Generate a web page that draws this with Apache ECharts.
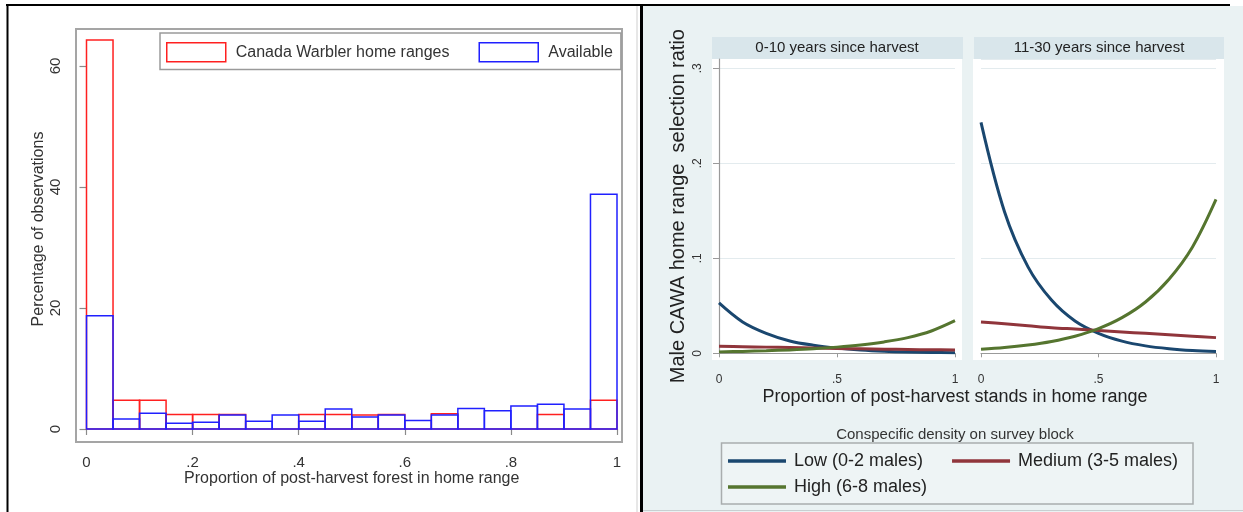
<!DOCTYPE html>
<html>
<head>
<meta charset="utf-8">
<script src="https://cdn.jsdelivr.net/npm/echarts@6/dist/echarts.min.js"></script>
<style>
html,body{margin:0;padding:0;background:#fff;}
#c{width:1243px;height:512px;}
</style>
</head>
<body>
<div id="c"></div>
<script>
// ---------- Left panel: histogram ----------
const binEdges = [0, 0.05, 0.1, 0.15, 0.2, 0.25, 0.3, 0.35, 0.4, 0.45, 0.5,
                  0.55, 0.6, 0.65, 0.7, 0.75, 0.8, 0.85, 0.9, 0.95, 1];
const warblerPct = [64.3, 4.76, 4.76, 2.38, 2.38, 2.38, 0, 0, 2.38, 2.38,
                    2.3, 2.38, 0, 2.5, 0, 0, 0, 2.38, 0, 4.76];
const availablePct = [18.7, 1.65, 2.6, 0.93, 1.1, 2.3, 1.27, 2.3, 1.27, 3.3,
                      2.0, 2.3, 1.4, 2.3, 3.4, 3.0, 3.8, 4.1, 3.3, 38.8];
const histNames = ['Canada Warbler home ranges', 'Available'];
const leftXTicks = [0, 0.2, 0.4, 0.6, 0.8, 1];
const leftYTicks = [0, 20, 40, 60];

// ---------- Right panel: fitted curves ----------
const facetTitles = ['0-10 years since harvest', '11-30 years since harvest'];
const propX = [0, 0.1, 0.2, 0.3, 0.4, 0.5, 0.6, 0.7, 0.8, 0.9, 1];
const low010  = [0.053, 0.033, 0.021, 0.013, 0.0085, 0.0055, 0.0035, 0.0022, 0.0014, 0.0009, 0.0006];
const med010  = [0.0075, 0.007, 0.0065, 0.006, 0.0055, 0.005, 0.0047, 0.0043, 0.004, 0.0037, 0.0035];
const high010 = [0.0015, 0.002, 0.0027, 0.0036, 0.0048, 0.0065, 0.0088, 0.012, 0.0165, 0.0235, 0.0343];
const low1130  = [0.243, 0.149, 0.091, 0.056, 0.034, 0.021, 0.0128, 0.0078, 0.0048, 0.0029, 0.0018];
const med1130  = [0.033, 0.031, 0.029, 0.027, 0.0255, 0.024, 0.0225, 0.021, 0.0195, 0.018, 0.0165];
const high1130 = [0.0042, 0.006, 0.0087, 0.0125, 0.018, 0.026, 0.0375, 0.054, 0.078, 0.112, 0.162];
const densityNames = ['Low (0-2 males)', 'Medium (3-5 males)', 'High (6-8 males)'];
const densityColors = ['#1a476f', '#90353b', '#55752f'];
const rightXTicks = [0, 0.5, 1];
const rightYTicks = [0, 0.1, 0.2, 0.3];

const FONT = '"Liberation Sans", Arial, sans-serif';
const fmt = v => {
  const s = String(+(+v).toFixed(3));
  return s.replace(/^0\./, '.');
};

function histData(vals) {
  return vals.map((h, i) => [binEdges[i], binEdges[i + 1], h]);
}
function histSeries(name, vals, color, z) {
  return {
    type: 'custom', name: name, xAxisIndex: 0, yAxisIndex: 0, z: z,
    itemStyle: { color: color },
    encode: { x: [0, 1], y: 2 },
    data: histData(vals),
    renderItem: function (params, api) {
      const p0 = api.coord([api.value(0), api.value(2)]);
      const p1 = api.coord([api.value(1), 0]);
      return {
        type: 'rect',
        shape: { x: p0[0], y: p0[1], width: p1[0] - p0[0], height: p1[1] - p0[1] },
        style: { fill: 'none', stroke: color, lineWidth: 1.5 }
      };
    }
  };
}
function curve(name, vals, color, idx) {
  return {
    type: 'line', name: name, xAxisIndex: idx, yAxisIndex: idx,
    data: propX.map((x, i) => [x, vals[i]]),
    smooth: 0.35, symbol: 'none', showSymbol: false,
    lineStyle: { color: color, width: 3 }, itemStyle: { color: color }, z: 5
  };
}

const chart = echarts.init(document.getElementById('c'), null, { renderer: 'canvas' });

const option = {
  animation: false,
  textStyle: { fontFamily: FONT },
  grid: [
    { left: 86.5, width: 530.5, top: 29, height: 400 },
    { left: 719, width: 236, top: 59, height: 294.3 },
    { left: 981, width: 235, top: 59, height: 294.3 }
  ],
  xAxis: [
    {
      gridIndex: 0, type: 'value', min: 0, max: 1, interval: 0.2, offset: 13,
      axisLine: { show: false },
      axisTick: { show: true, length: 6, customValues: leftXTicks, lineStyle: { color: '#8a8a8a', width: 1.2 } },
      axisLabel: { fontSize: 15, color: '#333', margin: 13, customValues: leftXTicks, formatter: fmt },
      splitLine: { show: false },
      name: 'Proportion of post-harvest forest in home range', nameLocation: 'middle', nameGap: 29,
      nameMoveOverlap: false,
      nameTextStyle: { fontSize: 16, color: '#333' }
    },
    {
      gridIndex: 1, type: 'value', min: 0, max: 1, interval: 0.5, offset: 10,
      axisLine: { show: true, lineStyle: { color: '#9a9a9a', width: 1.2 } },
      axisTick: { show: true, length: 4, customValues: rightXTicks, lineStyle: { color: '#9a9a9a' } },
      axisLabel: { fontSize: 12, color: '#333', margin: 10, customValues: rightXTicks, formatter: fmt },
      splitLine: { show: false }
    },
    {
      gridIndex: 2, type: 'value', min: 0, max: 1, interval: 0.5, offset: 10,
      axisLine: { show: true, lineStyle: { color: '#9a9a9a', width: 1.2 } },
      axisTick: { show: true, length: 4, customValues: rightXTicks, lineStyle: { color: '#9a9a9a' } },
      axisLabel: { fontSize: 12, color: '#333', margin: 10, customValues: rightXTicks, formatter: fmt },
      splitLine: { show: false }
    }
  ],
  yAxis: [
    {
      gridIndex: 0, type: 'value', min: 0, max: 66.1, interval: 20, offset: 10.5,
      axisLine: { show: false },
      axisTick: { show: true, length: 7, customValues: leftYTicks, lineStyle: { color: '#8a8a8a', width: 1.2 } },
      axisLabel: { fontSize: 15, color: '#333', rotate: 90, margin: 13, customValues: leftYTicks, formatter: fmt },
      splitLine: { show: false },
      name: 'Percentage of observations', nameLocation: 'middle', nameGap: 29,
      nameMoveOverlap: false,
      nameTextStyle: { fontSize: 16, color: '#333' }
    },
    {
      gridIndex: 1, type: 'value', min: 0, max: 0.3098, interval: 0.1, offset: 6,
      axisLine: { show: true, lineStyle: { color: '#9a9a9a', width: 1.2 } },
      axisTick: { show: true, length: 6, customValues: rightYTicks, lineStyle: { color: '#9a9a9a' } },
      axisLabel: { fontSize: 12, color: '#333', rotate: 90, margin: 9, customValues: rightYTicks, formatter: fmt },
      splitLine: { show: true, lineStyle: { color: '#e3ebee', width: 1 } },
      name: 'Male CAWA home range  selection ratio', nameLocation: 'middle', nameGap: 25,
      nameMoveOverlap: false,
      nameTextStyle: { fontSize: 20, color: '#222' }
    },
    {
      gridIndex: 2, type: 'value', min: 0, max: 0.3098, interval: 0.1,
      axisLine: { show: false }, axisTick: { show: false }, axisLabel: { show: false },
      splitLine: { show: true, lineStyle: { color: '#e3ebee', width: 1 } }
    }
  ],
  legend: [
    {
      data: [
        { name: histNames[0], icon: 'rect', itemStyle: { color: '#fff', borderColor: '#ff2020', borderWidth: 1.5 } },
        { name: histNames[1], icon: 'rect', itemStyle: { color: '#fff', borderColor: '#2020ff', borderWidth: 1.5 } }
      ],
      left: 160, top: 33, orient: 'horizontal',
      itemWidth: 59, itemHeight: 19, itemGap: 29,
      padding: [9, 8, 7, 6],
      backgroundColor: '#fff', borderColor: '#9a9a9a', borderWidth: 1.5, borderRadius: 0,
      textStyle: { fontSize: 16, color: '#333', lineHeight: 19, padding: [0, 0, 0, 5] },
      selectedMode: false
    },
    {
      data: [densityNames[0], densityNames[1]],
      left: 728, top: 451, orient: 'horizontal', icon: 'rect',
      itemWidth: 58, itemHeight: 3.5, itemGap: 29, padding: 0,
      textStyle: { fontSize: 18, color: '#222', lineHeight: 20, padding: [0, 0, 0, 3] },
      selectedMode: false
    },
    {
      data: [densityNames[2]],
      left: 728, top: 477, orient: 'horizontal', icon: 'rect',
      itemWidth: 58, itemHeight: 3.5, padding: 0,
      textStyle: { fontSize: 18, color: '#222', lineHeight: 20, padding: [0, 0, 0, 3] },
      selectedMode: false
    }
  ],
  graphic: {
    elements: [
      // right panel background
      { type: 'rect', z: -10, shape: { x: 643, y: 6, width: 600, height: 506 }, style: { fill: '#eaf2f3' } },
      // facet plot regions
      { type: 'rect', z: -9, shape: { x: 712, y: 59, width: 250, height: 301 }, style: { fill: '#ffffff' } },
      { type: 'rect', z: -9, shape: { x: 973, y: 59, width: 251, height: 301 }, style: { fill: '#ffffff' } },
      // facet headers
      { type: 'rect', z: -9, shape: { x: 712, y: 37, width: 251, height: 22 }, style: { fill: '#d9e6eb' } },
      { type: 'rect', z: -9, shape: { x: 974, y: 37, width: 250, height: 22 }, style: { fill: '#d9e6eb' } },
      { type: 'text', z: 10, x: 837, y: 48, style: { text: facetTitles[0], font: '15px ' + FONT, fill: '#222', textAlign: 'center', textVerticalAlign: 'middle' } },
      { type: 'text', z: 10, x: 1099, y: 48, style: { text: facetTitles[1], font: '15px ' + FONT, fill: '#222', textAlign: 'center', textVerticalAlign: 'middle' } },
      // shared x title
      { type: 'text', z: 10, x: 955, y: 397, style: { text: 'Proportion of post-harvest stands in home range', font: '18px ' + FONT, fill: '#222', textAlign: 'center', textVerticalAlign: 'middle' } },
      // legend title and box
      { type: 'text', z: 10, x: 955, y: 435, style: { text: 'Conspecific density on survey block', font: '15px ' + FONT, fill: '#333', textAlign: 'center', textVerticalAlign: 'middle' } },
      { type: 'rect', z: -8, shape: { x: 721.5, y: 443, width: 471.5, height: 61 }, style: { fill: '#eef4f5', stroke: '#a9adae', lineWidth: 1.5 } },
      // left histogram frame
      { type: 'rect', z: 1, shape: { x: 76, y: 29, width: 546, height: 413 }, style: { fill: 'none', stroke: '#a5a5a5', lineWidth: 2 } },
      // outer borders
      { type: 'line', z: 50, shape: { x1: 637, y1: 6, x2: 637, y2: 512 }, style: { stroke: '#cfcfcf', lineWidth: 1 } },
      { type: 'line', z: 50, shape: { x1: 643, y1: 510.5, x2: 1243, y2: 510.5 }, style: { stroke: '#c8cfd1', lineWidth: 1 } },
      { type: 'line', z: 60, shape: { x1: 6, y1: 5, x2: 1230, y2: 5 }, style: { stroke: '#000', lineWidth: 2 } },
      { type: 'line', z: 60, shape: { x1: 7.5, y1: 4, x2: 7.5, y2: 512 }, style: { stroke: '#000', lineWidth: 2 } },
      { type: 'line', z: 60, shape: { x1: 641.5, y1: 4, x2: 641.5, y2: 512 }, style: { stroke: '#000', lineWidth: 3 } }
    ]
  },
  series: [
    histSeries(histNames[0], warblerPct, '#ff2020', 3),
    histSeries(histNames[1], availablePct, '#2020ff', 4),
    curve(densityNames[0], low010, densityColors[0], 1),
    curve(densityNames[1], med010, densityColors[1], 1),
    curve(densityNames[2], high010, densityColors[2], 1),
    curve(densityNames[0], low1130, densityColors[0], 2),
    curve(densityNames[1], med1130, densityColors[1], 2),
    curve(densityNames[2], high1130, densityColors[2], 2)
  ]
};
chart.setOption(option);
</script>
</body>
</html>
